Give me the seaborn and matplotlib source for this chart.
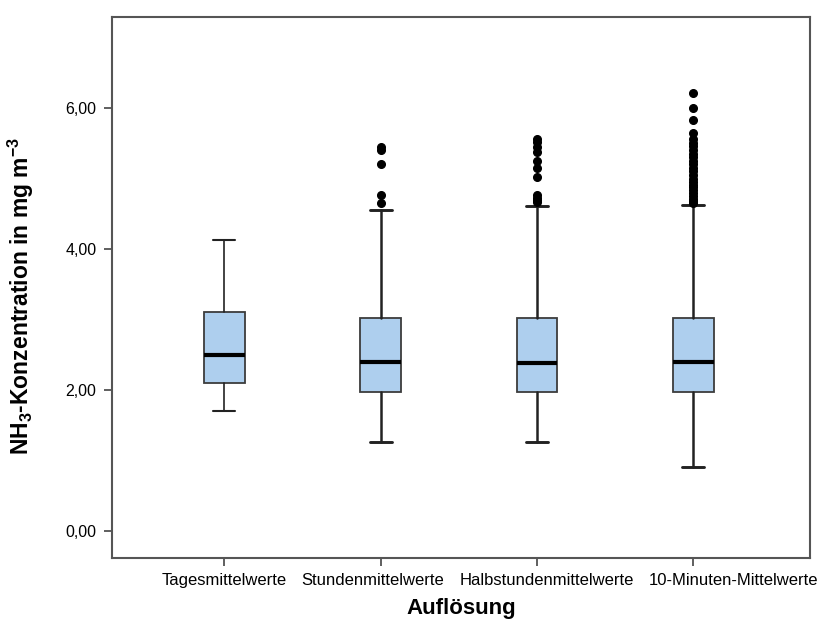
import matplotlib
matplotlib.use("Agg")
import matplotlib.pyplot as plt
import matplotlib.transforms as mtransforms
import seaborn as sns

# ---- data ----
categories = ["Tagesmittelwerte", "Stundenmittelwerte", "Halbstundenmittelwerte", "10-Minuten-Mittelwerte"]
whisker_low = [1.71, 1.27, 1.27, 0.91]
q1 = [2.10, 1.97, 1.97, 1.97]
median = [2.50, 2.40, 2.38, 2.40]
q3 = [3.11, 3.02, 3.03, 3.03]
whisker_high = [4.13, 4.56, 4.62, 4.63]
outliers_stunden = [5.45, 5.41, 5.21, 4.77, 4.66]
outliers_halb = [5.56, 5.52, 5.45, 5.38, 5.25, 5.16, 5.02, 4.77, 4.73, 4.70, 4.67]
outliers_10min = [6.22, 6.00, 5.83, 5.65, 5.56, 5.51, 5.46, 5.41, 5.36, 5.31, 5.26, 5.21,
                  5.16, 5.11, 5.06, 5.00, 4.96, 4.92, 4.88, 4.84, 4.80, 4.76, 4.72, 4.69, 4.66]
outliers = [[], outliers_stunden, outliers_halb, outliers_10min]
y_ticks = [0, 2, 4, 6]
y_tick_labels = ["0,00", "2,00", "4,00", "6,00"]

sns.set_style("white")
plt.rcParams['font.family'] = ['Liberation Sans', 'DejaVu Sans']
plt.rcParams['mathtext.default'] = 'regular'
plt.rcParams['text.color'] = 'black'
plt.rcParams['axes.labelcolor'] = 'black'
plt.rcParams['xtick.color'] = 'black'
plt.rcParams['ytick.color'] = 'black'

fig = plt.figure(figsize=(8.22, 6.24), dpi=100)
ax = fig.add_axes([0.136, 0.106, 0.850, 0.867])

stats = []
for i, name in enumerate(categories):
    stats.append(dict(label=name, whislo=whisker_low[i], q1=q1[i], med=median[i],
                      q3=q3[i], whishi=whisker_high[i], fliers=outliers[i]))

box_color = "#AECFEE"
for i, st in enumerate(stats):
    lw = 1.2 if i == 0 else 1.8
    ax.bxp([st], positions=[i], widths=0.26, patch_artist=True, showfliers=True,
           boxprops=dict(facecolor=box_color, edgecolor="#3c3c3c", linewidth=1.3),
           medianprops=dict(color="black", linewidth=3),
           whiskerprops=dict(color="#222222", linewidth=lw),
           capprops=dict(color="#222222", linewidth=lw + 0.3),
           capwidths=0.14,
           flierprops=dict(marker="o", markerfacecolor="black", markeredgecolor="black",
                           markersize=5.5, linestyle="none"))

ax.set_xlim(-0.72, 3.75)
ax.set_ylim(-0.38, 7.30)
ax.set_xticks(range(len(categories)))
ax.set_xticklabels(categories, fontsize=12)
ax.set_yticks(y_ticks)
ax.set_yticklabels(y_tick_labels, fontsize=11.5)
ax.tick_params(axis="both", which="both", direction="out", length=6, width=1.2,
               color="#444444", left=True, bottom=True, pad=5,
               labelcolor="black")
for sp in ax.spines.values():
    sp.set_visible(True)
    sp.set_color("#555555")
    sp.set_linewidth(1.5)

# spread the category labels apart like the reference (pixel offsets)
label_shift_px = [0, -8, 10, 40]
for lab, dx in zip(ax.get_xticklabels(), label_shift_px):
    lab.set_transform(lab.get_transform() +
                      mtransforms.ScaledTranslation(dx / 100, 0, fig.dpi_scale_trans))

ax.set_xlabel("Auflösung", fontsize=16, fontweight="bold", labelpad=7)
ax.set_ylabel(r"NH$_3$-Konzentration in mg m$^{-3}$", fontsize=16.5, fontweight="bold")
ax.yaxis.set_label_coords(-0.108, 0.485)

fig.savefig("out.png", dpi=100)
